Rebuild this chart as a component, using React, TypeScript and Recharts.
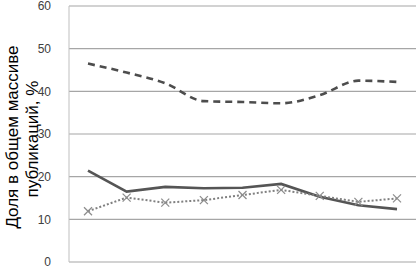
import React from "react";
import { LineChart, Line, XAxis, YAxis, CartesianGrid } from "recharts";

const categories = ["1", "2", "3", "4", "5", "6", "7", "8", "9"];
const dashedSeries = [46.5, 44.4, 41.9, 37.7, 37.5, 37.2, 39.1, 42.5, 42.2];
const solidSeries = [21.4, 16.5, 17.6, 17.3, 17.4, 18.3, 15.3, 13.3, 12.4];
const dottedSeries = [11.9, 15.1, 13.9, 14.5, 15.7, 16.9, 15.5, 14.1, 14.9];
const yTicks = [0, 10, 20, 30, 40, 50, 60];
const yLabelLines = ["Доля в общем массиве", "публикаций, %"];

const data = categories.map((c, i) => ({
  cat: c,
  dashed: dashedSeries[i],
  solid: solidSeries[i],
  dotted: dottedSeries[i],
}));

const XDot = (props: any) => {
  const { cx, cy } = props;
  if (cx == null || cy == null) return null;
  const s = 4;
  return (
    <g stroke="#8c8c8c" strokeWidth={1.2}>
      <line x1={cx - s} y1={cy - s} x2={cx + s} y2={cy + s} />
      <line x1={cx - s} y1={cy + s} x2={cx + s} y2={cy - s} />
    </g>
  );
};

const YLabel = (props: any) => {
  const vb = props.viewBox || {};
  const cy = (vb.y ?? 6) + (vb.height ?? 256) / 2 + 3;
  return (
    <g>
      <text
        x={0}
        y={0}
        transform={`translate(18, ${cy}) rotate(-90)`}
        textAnchor="middle"
        fontSize={17}
        fill="#000"
        fontFamily="Liberation Sans, Arial, sans-serif"
      >
        {yLabelLines[0]}
      </text>
      <text
        x={0}
        y={0}
        transform={`translate(38, ${cy + 2}) rotate(-90)`}
        textAnchor="middle"
        fontSize={17}
        fill="#000"
        fontFamily="Liberation Sans, Arial, sans-serif"
      >
        {yLabelLines[1]}
      </text>
    </g>
  );
};

export default function App() {
  return (
    <div style={{ position: "absolute", left: 0, top: 0, background: "#fff" }}>
      <LineChart
        width={416}
        height={267}
        data={data}
        margin={{ top: 6, right: 0, bottom: 5, left: 0 }}
      >
        <CartesianGrid vertical={false} stroke="#a6a6a6" strokeWidth={1.2} />
        <XAxis
          dataKey="cat"
          tick={false}
          tickLine={false}
          axisLine={{ stroke: "#808080", strokeWidth: 1.5 }}
          padding={{ left: 19, right: 19 }}
          height={0}
        />
        <YAxis
          width={69}
          domain={[0, 60]}
          ticks={yTicks}
          interval={0}
          tickLine={false}
          tickMargin={12}
          axisLine={{ stroke: "#bfbfbf" }}
          tick={{ fontSize: 12, fill: "#404040", fontFamily: "Liberation Sans, Arial, sans-serif" }}
          label={<YLabel />}
        />
        <Line
          type="monotone"
          dataKey="dashed"
          stroke="#4d4d4d"
          strokeWidth={2.6}
          strokeDasharray="7 5"
          dot={false}
          isAnimationActive={false}
        />
        <Line
          type="linear"
          dataKey="solid"
          stroke="#555555"
          strokeWidth={2.6}
          dot={false}
          isAnimationActive={false}
        />
        <Line
          type="linear"
          dataKey="dotted"
          stroke="#808080"
          strokeWidth={2}
          strokeDasharray="2 2"
          dot={<XDot />}
          isAnimationActive={false}
        />
      </LineChart>
    </div>
  );
}
